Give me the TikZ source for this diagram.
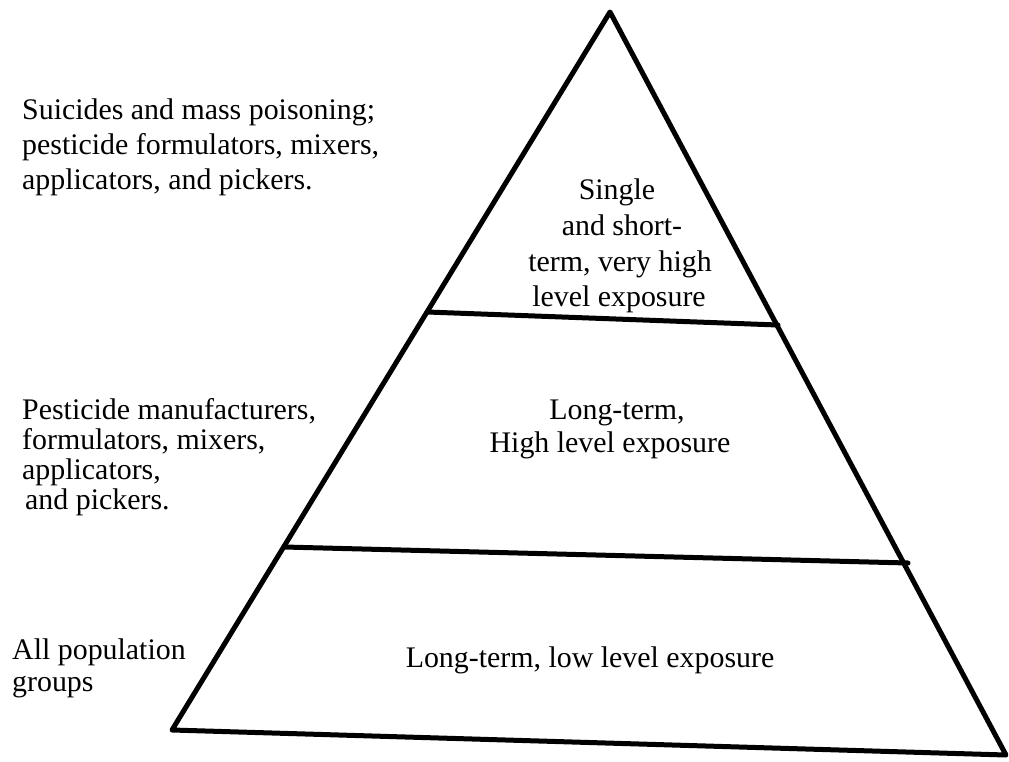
\documentclass[tikz,border=0pt]{standalone}
\usepackage{fontspec}
\setmainfont{Liberation Serif}
\begin{document}
\begin{tikzpicture}[x=1bp,y=-1bp,
  edge/.style={line width=5bp,line join=round,line cap=round},
  txt/.style={font=\fontsize{30}{34}\selectfont,inner sep=0pt},
  note/.style={txt,anchor=base west},
  lvl/.style={txt,anchor=base}]
\useasboundingbox (0,0) rectangle (1009,762);
% pyramid outline and tier boundaries
\coordinate (apex) at (610,12);
\coordinate (bl) at (172,730);
\coordinate (br) at (1006,755);
\coordinate (t1l) at (427,312);
\coordinate (t1r) at (778,325);
\coordinate (t2l) at (284,547);
\coordinate (t2r) at (908,563);
\draw[edge] (apex) -- (bl) -- (br) -- cycle;
\draw[edge] (t1l) -- (t1r);
\draw[edge] (t2l) -- (t2r);
% top tier
\node[lvl] (top1) at (617,199) {Single};
\node[lvl] (top2) at (622,235) {and short-};
\node[lvl] (top3) at (620,271) {term, very high};
\node[lvl] (top4) at (619,306) {level exposure};
% middle tier
\node[lvl] (mid1) at (617,419) {Long-term,};
\node[lvl] (mid2) at (610,452) {High level exposure};
% bottom tier
\node[lvl] (low1) at (590,667) {Long-term, low level exposure};
% side notes
\node[note] (a1) at (22,119) {Suicides and mass poisoning;};
\node[note] (a2) at (22,154) {pesticide formulators, mixers,};
\node[note] (a3) at (22,189) {applicators, and pickers.};
\node[note] (b1) at (22,419) {Pesticide manufacturers,};
\node[note] (b2) at (22,449) {formulators, mixers,};
\node[note] (b3) at (22,479) {applicators,};
\node[note] (b4) at (25,509) {and pickers.};
\node[note] (c1) at (12,659) {All population};
\node[note] (c2) at (12,691) {groups};
\end{tikzpicture}
\end{document}
